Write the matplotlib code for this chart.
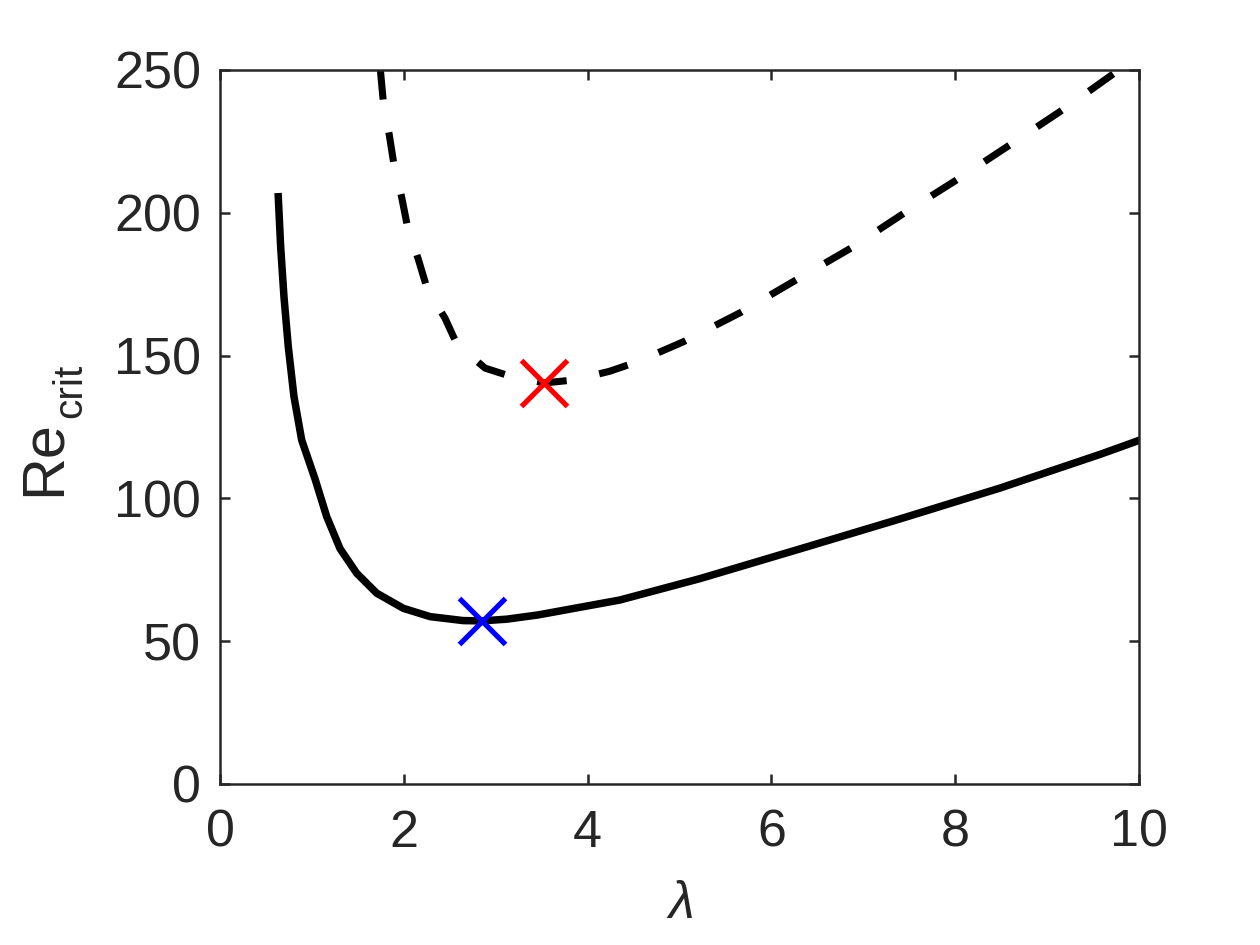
import matplotlib
matplotlib.use('Agg')
import matplotlib.pyplot as plt

plt.rcParams['font.family'] = ['Liberation Sans', 'DejaVu Sans']

# lower branch (solid)
lam_solid = [0.634, 0.660, 0.696, 0.743, 0.805, 0.889, 1.034, 1.161, 1.306,
             1.487, 1.705, 1.995, 2.285, 2.647, 2.848, 3.120, 3.464, 4.35,
             5.223, 6.311, 7.399, 8.487, 9.576, 10.0]
re_solid = [205.6, 188.1, 170.6, 153.1, 135.6, 120.4, 106.8, 93.6, 82.4,
            73.8, 66.8, 61.5, 58.6, 57.2, 57.1, 57.7, 59.2, 64.4,
            71.9, 82.3, 92.8, 103.6, 115.4, 120.3]

# upper branch (dashed)
lam_dash = [1.745, 1.777, 1.842, 1.893, 1.977, 2.042, 2.158, 2.256, 2.448,
            2.576, 2.884, 3.174, 3.53, 3.86, 4.24, 4.54, 5.04, 5.66,
            6.27, 6.87, 7.45, 8.04, 8.63, 9.20, 9.78]
re_dash = [250.0, 238.9, 227.2, 216.8, 205.4, 194.8, 183.7, 173.2, 163.1,
           154.1, 145.6, 142.6, 140.4, 141.5, 144.5, 147.8, 154.8, 165.0,
           176.5, 187.7, 200.0, 212.0, 224.5, 236.7, 250.0]

# minima of each branch
min_lam = [2.848, 3.53]
min_re = [57.1, 140.4]
min_col = ['#0000ff', '#ff0000']

W, H = 1260, 945
fig = plt.figure(figsize=(8.4, 6.3), dpi=150)
ax = fig.add_axes([0.1746, 0.1704, 0.7294, 0.7556])

ax.plot(lam_solid, re_solid, '-', color='k', lw=3.6)
ax.plot(lam_dash, re_dash, color='k', lw=3.4, linestyle=(0, (4.2, 4.7)))
for lx, ry, c in zip(min_lam, min_re, min_col):
  ax.plot(lx, ry, 'x', color=c, ms=22, mew=2.5, zorder=5)

ax.set_xlim(0, 10)
ax.set_ylim(0, 250)
ax.set_xticks([0, 2, 4, 6, 8, 10])
ax.set_yticks([0, 50, 100, 150, 200, 250])

gray = '#262626'
for s in ax.spines.values():
  s.set_color(gray)
  s.set_linewidth(1.2)
ax.tick_params(direction='in', top=True, right=True, length=5, width=1.2,
               colors=gray, labelsize=25)
ax.tick_params(axis='x', pad=12)
ax.tick_params(axis='y', pad=9)

# axis labels placed by hand (deep subscript as in the original)
fig.text(681/W, 1 - 918/H, 'λ', ha='center', va='baseline', fontsize=25,
         style='italic', color=gray)
fig.text(60/W, 1 - 458.5/H, 'Re', rotation=90, rotation_mode='anchor',
         ha='center', va='baseline', fontsize=28.5, color=gray)
fig.text(81.7/W, 1 - 391/H, 'crit', rotation=90, rotation_mode='anchor',
         ha='center', va='baseline', fontsize=19.5, color=gray)

fig.savefig('out.png', dpi=150)
